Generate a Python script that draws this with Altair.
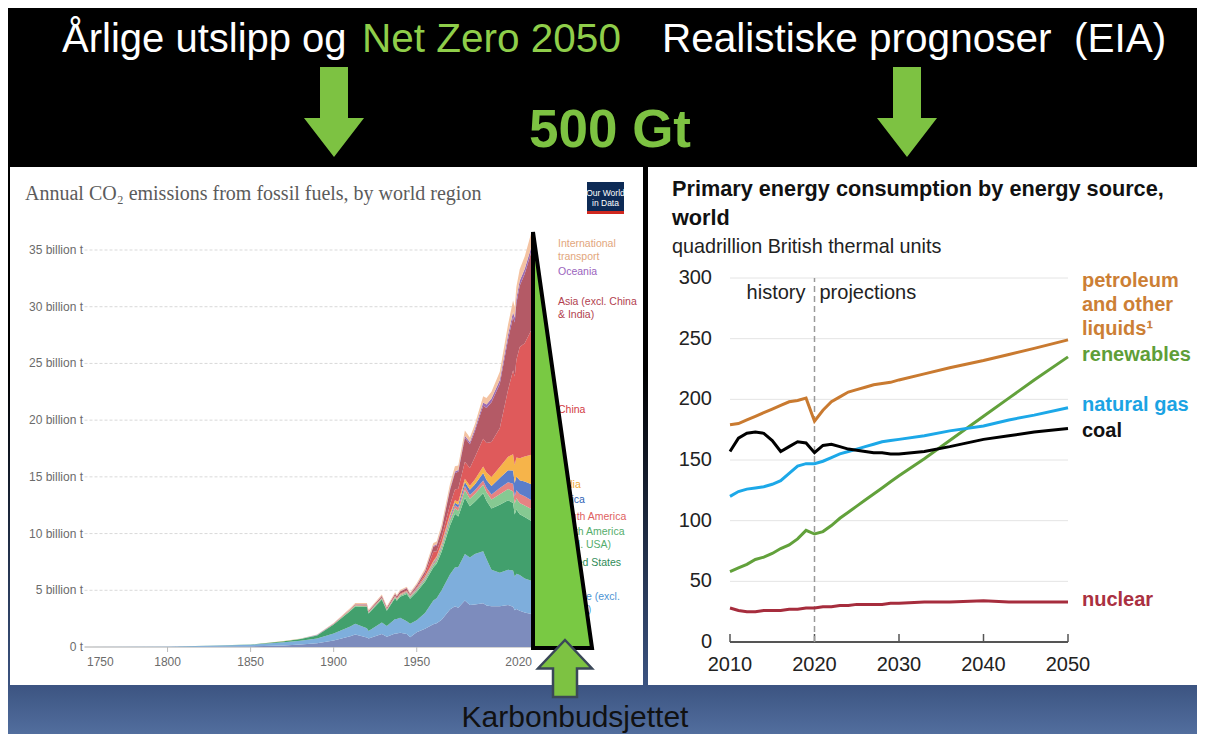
import altair as alt
import pandas as pd

W, H = 1189, 726
SANS = "Liberation Sans, Arial, Helvetica, sans-serif"
SERIF = "Liberation Serif, Times New Roman, serif"

# ---------------- left chart: annual CO2 emissions (billion t) ----------------
YEARS_L = [1750, 1800, 1850, 1870, 1880, 1890, 1900, 1910, 1913, 1920, 1921, 1929, 1932,
           1937, 1938, 1940, 1944, 1946, 1950, 1955, 1960, 1962, 1965, 1970, 1973, 1975,
           1979, 1982, 1985, 1990, 1992, 1995, 2000, 2005, 2008, 2009, 2010, 2012, 2015,
           2019, 2020]
REGIONS = ["European Union (27)", "Europe (excl. EU-27)", "United States",
           "North America (excl. USA)", "South America", "Africa", "India", "China",
           "Asia (excl. China & India)", "Oceania", "International transport"]
EU27 = [0.0005, 0.004, 0.05, 0.14, 0.22, 0.33, 0.58, 0.94, 1.10, 0.84, 0.74, 1.14, 0.91,
        1.20, 1.20, 1.26, 1.14, 0.86, 1.30, 1.60, 2.00, 2.10, 2.40, 3.30, 3.60, 3.45,
        4.10, 3.70, 3.75, 3.85, 3.65, 3.60, 3.60, 3.70, 3.55, 3.25, 3.35, 3.20, 3.05,
        2.90, 2.60]
EUR_X = [0.009, 0.028, 0.14, 0.28, 0.33, 0.42, 0.62, 0.86, 0.96, 0.82, 0.67, 1.02, 0.94,
         1.26, 1.26, 1.32, 1.14, 1.20, 1.05, 1.40, 2.10, 2.20, 2.60, 3.10, 3.40, 3.60,
         4.10, 4.20, 4.45, 4.60, 4.10, 3.20, 2.95, 3.10, 3.20, 2.95, 3.10, 3.15, 3.00,
         2.95, 2.75]
USA = [0, 0.0003, 0.02, 0.09, 0.16, 0.27, 0.78, 1.38, 1.50, 1.86, 1.54, 2.02, 1.34,
       1.86, 1.62, 1.86, 2.40, 2.20, 2.50, 2.75, 2.90, 3.05, 3.40, 4.30, 4.75, 4.45,
       4.95, 4.50, 4.60, 5.10, 5.15, 5.40, 6.00, 6.13, 5.95, 5.48, 5.68, 5.35, 5.40,
       5.26, 4.70]
NA_X = [0, 0, 0.001, 0.005, 0.01, 0.02, 0.03, 0.06, 0.07, 0.08, 0.07, 0.09, 0.07,
        0.09, 0.09, 0.10, 0.12, 0.12, 0.15, 0.20, 0.25, 0.27, 0.32, 0.42, 0.48, 0.52,
        0.70, 0.68, 0.68, 0.75, 0.75, 0.80, 0.92, 1.00, 1.02, 0.96, 0.98, 1.00, 1.02,
        1.05, 0.95]
S_AM = [0, 0, 0, 0.001, 0.002, 0.004, 0.008, 0.015, 0.018, 0.02, 0.02, 0.03, 0.025,
        0.035, 0.035, 0.04, 0.05, 0.055, 0.07, 0.10, 0.13, 0.14, 0.17, 0.22, 0.26, 0.28,
        0.34, 0.33, 0.33, 0.38, 0.40, 0.45, 0.55, 0.60, 0.68, 0.66, 0.72, 0.78, 0.82,
        0.78, 0.70]
AFRICA = [0, 0, 0, 0.001, 0.002, 0.003, 0.005, 0.01, 0.012, 0.015, 0.015, 0.02, 0.02,
          0.025, 0.025, 0.03, 0.04, 0.045, 0.06, 0.08, 0.10, 0.11, 0.13, 0.18, 0.22, 0.25,
          0.35, 0.45, 0.52, 0.65, 0.68, 0.75, 0.88, 1.05, 1.15, 1.15, 1.20, 1.22, 1.30,
          1.40, 1.28]
INDIA = [0, 0, 0, 0.001, 0.002, 0.004, 0.008, 0.015, 0.02, 0.025, 0.025, 0.03, 0.03,
         0.035, 0.035, 0.035, 0.04, 0.04, 0.06, 0.075, 0.11, 0.13, 0.16, 0.20, 0.22, 0.25,
         0.30, 0.36, 0.44, 0.58, 0.65, 0.78, 0.98, 1.20, 1.45, 1.60, 1.68, 1.95, 2.20,
         2.60, 2.45]
CHINA = [0, 0, 0, 0, 0, 0, 0.001, 0.005, 0.007, 0.01, 0.01, 0.02, 0.02,
         0.03, 0.03, 0.04, 0.05, 0.03, 0.08, 0.20, 0.80, 0.45, 0.50, 0.80, 0.95, 1.15,
         1.50, 1.55, 1.95, 2.45, 2.60, 3.10, 3.40, 5.90, 7.40, 7.80, 8.60, 9.80, 10.00,
         11.00, 11.20]
ASIA_X = [0, 0, 0, 0.002, 0.005, 0.01, 0.02, 0.05, 0.06, 0.08, 0.08, 0.12, 0.11,
          0.15, 0.16, 0.20, 0.20, 0.10, 0.16, 0.25, 0.45, 0.50, 0.70, 1.30, 1.45, 1.50,
          2.10, 2.10, 2.30, 2.90, 3.10, 3.50, 3.90, 4.45, 4.70, 4.75, 5.00, 5.40, 6.10,
          6.90, 6.50]
OCEANIA = [0, 0, 0, 0.002, 0.005, 0.01, 0.015, 0.02, 0.022, 0.025, 0.025, 0.03, 0.028,
           0.033, 0.034, 0.035, 0.04, 0.042, 0.05, 0.065, 0.08, 0.085, 0.10, 0.13, 0.15,
           0.16, 0.19, 0.21, 0.23, 0.30, 0.31, 0.33, 0.37, 0.42, 0.44, 0.43, 0.44, 0.44,
           0.43, 0.45, 0.43]
INTL = [0, 0, 0.005, 0.01, 0.02, 0.035, 0.05, 0.08, 0.10, 0.10, 0.09, 0.11, 0.09,
        0.10, 0.10, 0.10, 0.10, 0.12, 0.15, 0.20, 0.25, 0.27, 0.32, 0.40, 0.45, 0.40,
        0.45, 0.38, 0.38, 0.55, 0.56, 0.60, 0.72, 0.90, 1.00, 0.95, 1.00, 1.02, 1.10,
        1.25, 0.85]
SERIES_L = [EU27, EUR_X, USA, NA_X, S_AM, AFRICA, INDIA, CHINA, ASIA_X, OCEANIA, INTL]
AREA_COLORS = ["#7d8cbd", "#7eaedc", "#42a06d", "#86c992", "#e58383", "#5a7dca",
               "#f6b44a", "#df5a5b", "#b45a66", "#9c6db4", "#f4c3a2"]

Y_TICKS_L = [0, 5, 10, 15, 20, 25, 30, 35]
Y_LABELS_L = ["0 t", "5 billion t", "10 billion t", "15 billion t", "20 billion t",
              "25 billion t", "30 billion t", "35 billion t"]
X_TICKS_L = [1750, 1800, 1850, 1900, 1950, 2020]

LBL_L_TEXT = ["International\ntransport", "Oceania", "Asia (excl. China\n& India)", "China",
              "India", "Africa", "South America", "North America\n(excl. USA)",
              "United States", "Europe (excl.\nEU-27)"]
LBL_L_Y = [35.5, 33.1, 30.4, 20.9, 14.3, 13.0, 11.5, 10.15, 7.4, 4.4]
LBL_L_COLOR = ["#e2a67c", "#9a64bd", "#b23f4f", "#d23a43", "#f0a733", "#2f62b5",
               "#de5f5f", "#55ad6c", "#2e8b57", "#4b93d3"]

# ---------------- right chart: EIA primary energy consumption ----------------
YEARS_R = [2010, 2011, 2012, 2013, 2014, 2015, 2016, 2017, 2018, 2019, 2020, 2021, 2022,
           2023, 2024, 2025, 2026, 2027, 2028, 2029, 2030, 2033, 2036, 2040, 2043, 2046,
           2050]
PETROLEUM = [179, 180, 183, 186, 189, 192, 195, 198, 199, 201, 182, 191, 198, 202, 206,
             208, 210, 212, 213, 214, 216, 221, 226, 232, 237, 242, 249]
RENEWABLES = [58, 61, 64, 68, 70, 73, 77, 80, 85, 92, 89, 91, 96, 102, 107, 112, 117, 122,
              127, 132, 137, 151, 166, 186, 201, 216, 235]
NATGAS = [120, 124, 126, 127, 128, 130, 133, 139, 145, 147, 147, 149, 152, 155, 157, 159,
          161, 163, 165, 166, 167, 170, 174, 178, 183, 187, 193]
COAL = [157, 168, 172, 173, 172, 166, 157, 161, 165, 164, 156, 162, 163, 161, 159, 158,
        157, 156, 156, 155, 155, 157, 161, 167, 170, 173, 176]
NUCLEAR = [28, 26, 25, 25, 26, 26, 26, 27, 27, 28, 28, 29, 29, 30, 30, 31, 31, 31, 31, 32,
           32, 33, 33, 34, 33, 33, 33]
SOURCES = ["petroleum and other liquids", "renewables", "natural gas", "coal", "nuclear"]
SERIES_R = [PETROLEUM, RENEWABLES, NATGAS, COAL, NUCLEAR]
LINE_COLORS = ["#c97a30", "#62a13b", "#1ca8e8", "#000000", "#a62d3d"]
LBL_R_TEXT = ["petroleum\nand other\nliquids\u00b9", "renewables", "natural gas", "coal", "nuclear"]
LBL_R_Y = [297.5, 236.5, 195.3, 173.9, 34.6]
LBL_R_COLOR = ["#cc7f35", "#5f9e38", "#1ba3e3", "#111111", "#aa3041"]
Y_TICKS_R = [0, 50, 100, 150, 200, 250, 300]
X_TICKS_R = [2010, 2020, 2030, 2040, 2050]
PHASE_TEXT = ["history", "projections"]
PHASE_Y = [287.5, 287.5]

# ---------------- colours ----------------
GREEN = "#7dc242"
GREEN_LIGHT = "#8fce4a"
TRI_GREEN = "#79c943"

one = pd.DataFrame({"k": [0]})

# ---------------- scales ----------------
xl_scale = alt.Scale(domain=[1750, 2020], range=[76.5, 525], nice=False, zero=False)
yl_scale = alt.Scale(domain=[0, 35], range=[639, 242], nice=False, zero=False)
xr_scale = alt.Scale(domain=[2010, 2050], range=[722, 1060], nice=False, zero=False)
yr_scale = alt.Scale(domain=[0, 300], range=[634, 270], nice=False, zero=False)

# ---------------- backgrounds ----------------
bg = alt.Chart(one).mark_rect(
    color=alt.Gradient(
        gradient="linear",
        stops=[alt.GradientStop(offset=0, color="#000000"),
               alt.GradientStop(offset=0.5, color="#000000"),
               alt.GradientStop(offset=0.93, color="#3b5380"),
               alt.GradientStop(offset=1, color="#526e9e")],
        x1=0, x2=0, y1=0, y2=1)
).encode(x=alt.value(0), x2=alt.value(W), y=alt.value(0), y2=alt.value(H))

panel_l = alt.Chart(one).mark_rect(color="white").encode(
    x=alt.value(2), x2=alt.value(635), y=alt.value(159), y2=alt.value(677))
panel_r = alt.Chart(one).mark_rect(color="white").encode(
    x=alt.value(640), x2=alt.value(W), y=alt.value(159), y2=alt.value(677))

# ---------------- left chart ----------------
rows = []
for k, (reg, vals) in enumerate(zip(REGIONS, SERIES_L)):
    for yr, v in zip(YEARS_L, vals):
        rows.append({"year": yr, "region": reg, "value": v, "k": k})
df_l = pd.DataFrame(rows)

grid_l = alt.Chart(pd.DataFrame({"v": Y_TICKS_L[1:]})).mark_rule(
    color="#d9d9d9", strokeDash=[3, 2], strokeWidth=1
).encode(
    x=alt.X(datum=1750, type="quantitative", scale=xl_scale, axis=None),
    x2=alt.X2(datum=2020),
    y=alt.Y("v:Q", scale=yl_scale, axis=None),
)
base_l = alt.Chart(pd.DataFrame({"v": [0]})).mark_rule(color="#aaaaaa", strokeWidth=1).encode(
    x=alt.X(datum=1750, type="quantitative", scale=xl_scale, axis=None),
    x2=alt.X2(datum=2020),
    y=alt.Y("v:Q", scale=yl_scale, axis=None),
)
ticks_l = alt.Chart(pd.DataFrame({"year": X_TICKS_L[1:-1]})).mark_rule(
    color="#bbbbbb", strokeWidth=1
).encode(
    x=alt.X("year:Q", scale=xl_scale, axis=None),
    y=alt.value(639), y2=alt.value(644),
)
area = alt.Chart(df_l).mark_area(interpolate="linear").encode(
    x=alt.X("year:Q", scale=xl_scale, axis=None),
    y=alt.Y("value:Q", stack="zero", scale=yl_scale, axis=None),
    color=alt.Color("region:N", scale=alt.Scale(domain=REGIONS, range=AREA_COLORS), legend=None),
    order=alt.Order("k:Q"),
)
ylab_l = alt.Chart(pd.DataFrame({"v": Y_TICKS_L, "t": Y_LABELS_L})).mark_text(
    align="right", baseline="middle", fontSize=12, color="#6b6b6b", font=SANS
).encode(x=alt.value(75), y=alt.Y("v:Q", scale=yl_scale, axis=None), text="t:N")

df_xt = pd.DataFrame({"year": X_TICKS_L, "t": [str(v) for v in X_TICKS_L]})
xlab_first = alt.Chart(df_xt.iloc[:1]).mark_text(
    align="left", baseline="middle", fontSize=12, color="#6b6b6b", font=SANS, dx=2.5
).encode(x=alt.X("year:Q", scale=xl_scale, axis=None), y=alt.value(654), text="t:N")
xlab_mid = alt.Chart(df_xt.iloc[1:-1]).mark_text(
    align="center", baseline="middle", fontSize=12, color="#6b6b6b", font=SANS
).encode(x=alt.X("year:Q", scale=xl_scale, axis=None), y=alt.value(654), text="t:N")
xlab_last = alt.Chart(df_xt.iloc[-1:]).mark_text(
    align="right", baseline="middle", fontSize=12, color="#6b6b6b", font=SANS, dx=-1
).encode(x=alt.X("year:Q", scale=xl_scale, axis=None), y=alt.value(654), text="t:N")

lbl_l = alt.Chart(pd.DataFrame({"t": LBL_L_TEXT, "v": LBL_L_Y})).mark_text(
    align="left", baseline="middle", fontSize=10.5, font=SANS, lineBreak="\n", lineHeight=13, dx=25
).encode(
    x=alt.X(datum=2020, type="quantitative", scale=xl_scale, axis=None),
    y=alt.Y("v:Q", scale=yl_scale, axis=None),
    text="t:N",
    color=alt.Color("t:N", scale=alt.Scale(domain=LBL_L_TEXT, range=LBL_L_COLOR), legend=None),
)

title_l = alt.Chart(one).mark_text(
    text="Annual CO\u2082 emissions from fossil fuels, by world region",
    align="left", baseline="alphabetic", fontSize=20, font=SERIF, color="#5b5b5b"
).encode(x=alt.value(17), y=alt.value(192))

logo = alt.Chart(one).mark_rect(color="#0d2a55").encode(
    x=alt.value(579), x2=alt.value(616), y=alt.value(174), y2=alt.value(206))
logo_red = alt.Chart(one).mark_rect(color="#d0281f").encode(
    x=alt.value(579), x2=alt.value(616), y=alt.value(203), y2=alt.value(206))
logo_t1 = alt.Chart(one).mark_text(text="Our World", fontSize=8.5, font=SANS, color="white",
                                   align="center", baseline="middle").encode(
    x=alt.value(597.5), y=alt.value(184.5))
logo_t2 = alt.Chart(one).mark_text(text="in Data", fontSize=8.5, font=SANS, color="white",
                                   align="center", baseline="middle").encode(
    x=alt.value(597.5), y=alt.value(195))

left = alt.layer(grid_l, base_l, ticks_l, area, ylab_l, xlab_first, xlab_mid, xlab_last,
                 lbl_l).resolve_scale(color="independent")

# ---------------- right chart ----------------
rows = []
for src, vals in zip(SOURCES, SERIES_R):
    for yr, v in zip(YEARS_R, vals):
        rows.append({"year": yr, "source": src, "value": v})
df_r = pd.DataFrame(rows)

grid_r = alt.Chart(pd.DataFrame({"v": Y_TICKS_R[1:]})).mark_rule(
    color="#e4e4e4", strokeWidth=1
).encode(
    x=alt.X(datum=2010, type="quantitative", scale=xr_scale, axis=None),
    x2=alt.X2(datum=2050),
    y=alt.Y("v:Q", scale=yr_scale, axis=None),
)
axis_r = alt.Chart(pd.DataFrame({"v": [0]})).mark_rule(color="#555555", strokeWidth=2).encode(
    x=alt.X(datum=2010, type="quantitative", scale=xr_scale, axis=None),
    x2=alt.X2(datum=2050),
    y=alt.Y("v:Q", scale=yr_scale, axis=None),
)
ticks_r = alt.Chart(pd.DataFrame({"year": X_TICKS_R})).mark_rule(color="#555555", strokeWidth=1.5).encode(
    x=alt.X("year:Q", scale=xr_scale, axis=None),
    y=alt.value(634), y2=alt.value(626),
)
divider = alt.Chart(pd.DataFrame({"year": [2020]})).mark_rule(
    color="#9a9a9a", strokeWidth=1.5, strokeDash=[6, 4]
).encode(
    x=alt.X("year:Q", scale=xr_scale, axis=None),
    y=alt.Y(datum=0, type="quantitative", scale=yr_scale, axis=None),
    y2=alt.Y2(datum=300),
)
lines = alt.Chart(df_r).mark_line(strokeWidth=3).encode(
    x=alt.X("year:Q", scale=xr_scale, axis=None),
    y=alt.Y("value:Q", scale=yr_scale, axis=None),
    color=alt.Color("source:N", scale=alt.Scale(domain=SOURCES, range=LINE_COLORS), legend=None),
)
ylab_r = alt.Chart(pd.DataFrame({"v": Y_TICKS_R, "t": [str(v) for v in Y_TICKS_R]})).mark_text(
    align="right", baseline="middle", fontSize=20, color="#222222", font=SANS
).encode(x=alt.value(704), y=alt.Y("v:Q", scale=yr_scale, axis=None), text="t:N")
xlab_r = alt.Chart(pd.DataFrame({"year": X_TICKS_R, "t": [str(v) for v in X_TICKS_R]})).mark_text(
    align="center", baseline="middle", fontSize=20, color="#222222", font=SANS
).encode(x=alt.X("year:Q", scale=xr_scale, axis=None), y=alt.value(657), text="t:N")
hist_t = alt.Chart(pd.DataFrame({"t": PHASE_TEXT[:1], "v": PHASE_Y[:1]})).mark_text(
    align="right", baseline="middle", fontSize=20, color="#222222", font=SANS, dx=-9
).encode(x=alt.X(datum=2020, type="quantitative", scale=xr_scale, axis=None),
         y=alt.Y("v:Q", scale=yr_scale, axis=None), text="t:N")
proj_t = alt.Chart(pd.DataFrame({"t": PHASE_TEXT[1:], "v": PHASE_Y[1:]})).mark_text(
    align="left", baseline="middle", fontSize=20, color="#222222", font=SANS, dx=5
).encode(x=alt.X(datum=2020, type="quantitative", scale=xr_scale, axis=None),
         y=alt.Y("v:Q", scale=yr_scale, axis=None), text="t:N")
lbl_r = alt.Chart(pd.DataFrame({"t": LBL_R_TEXT, "v": LBL_R_Y})).mark_text(
    align="left", baseline="middle", fontSize=20, fontWeight="bold", font=SANS,
    lineBreak="\n", lineHeight=24, dx=14
).encode(
    x=alt.X(datum=2050, type="quantitative", scale=xr_scale, axis=None),
    y=alt.Y("v:Q", scale=yr_scale, axis=None),
    text="t:N",
    color=alt.Color("t:N", scale=alt.Scale(domain=LBL_R_TEXT, range=LBL_R_COLOR), legend=None),
)

right = alt.layer(grid_r, axis_r, ticks_r, divider, lines, ylab_r, xlab_r, hist_t, proj_t,
                  lbl_r).resolve_scale(color="independent")

title_r1 = alt.Chart(one).mark_text(
    text="Primary energy consumption by energy source,", align="left", baseline="alphabetic",
    fontSize=21.7, fontWeight="bold", font=SANS, color="#111111"
).encode(x=alt.value(664), y=alt.value(188))
title_r2 = alt.Chart(one).mark_text(
    text="world", align="left", baseline="alphabetic",
    fontSize=21.7, fontWeight="bold", font=SANS, color="#111111"
).encode(x=alt.value(664), y=alt.value(217))
sub_r = alt.Chart(one).mark_text(
    text="quadrillion British thermal units", align="left", baseline="alphabetic",
    fontSize=19.8, font=SANS, color="#222222"
).encode(x=alt.value(664), y=alt.value(245))

# ---------------- slide decorations ----------------
head1 = alt.Chart(one).mark_text(
    text="\u00c5rlige utslipp og", align="left", baseline="alphabetic", fontSize=40,
    font=SANS, color="white").encode(x=alt.value(54), y=alt.value(44))
head2 = alt.Chart(one).mark_text(
    text="Net Zero 2050", align="left", baseline="alphabetic", fontSize=40.5,
    font=SANS, color=GREEN_LIGHT).encode(x=alt.value(354), y=alt.value(44))
head3 = alt.Chart(one).mark_text(
    text="Realistiske prognoser \u00a0(EIA)", align="left", baseline="alphabetic", fontSize=40.5,
    font=SANS, color="white").encode(x=alt.value(654), y=alt.value(44))
big = alt.Chart(one).mark_text(
    text="500 Gt", align="center", baseline="alphabetic", fontSize=53, fontWeight="bold",
    font=SANS, color=GREEN).encode(x=alt.value(602), y=alt.value(139))

DOWN_ARROW = "M-0.311,-1 L0.311,-1 L0.311,0.133 L0.667,0.133 L0,1 L-0.667,0.133 L-0.311,0.133 Z"
UP_ARROW = "M0,-1 L0.947,0 L0.421,0 L0.421,1 L-0.421,1 L-0.421,0 L-0.947,0 Z"
TRIANGLE = "M0,-1 L0,1 L0.2837,1 Z"

arrow1 = alt.Chart(one).mark_point(shape=DOWN_ARROW, size=8100, filled=True, color=GREEN,
                                   opacity=1, strokeWidth=0).encode(
    x=alt.value(326), y=alt.value(104))
arrow2 = alt.Chart(one).mark_point(shape=DOWN_ARROW, size=8100, filled=True, color=GREEN,
                                   opacity=1, strokeWidth=0).encode(
    x=alt.value(899), y=alt.value(104))
tri = alt.Chart(one).mark_point(shape=TRIANGLE, size=173056, filled=True, fill=TRI_GREEN,
                                stroke="#000000", strokeWidth=4, opacity=1,
                                fillOpacity=1, strokeOpacity=1).encode(
    x=alt.value(525), y=alt.value(432))
arrow3 = alt.Chart(one).mark_point(shape=UP_ARROW, size=3249, filled=True, fill=GREEN,
                                   stroke="#3a4758", strokeWidth=2.5, opacity=1,
                                   fillOpacity=1, strokeOpacity=1).encode(
    x=alt.value(557), y=alt.value(660.5))
foot = alt.Chart(one).mark_text(
    text="Karbonbudsjettet", align="center", baseline="alphabetic", fontSize=30,
    font=SANS, color="#111111"
).encode(x=alt.value(567), y=alt.value(719))

chart = alt.layer(
    bg, panel_l, panel_r,
    title_l, logo, logo_red, logo_t1, logo_t2,
    left, right,
    title_r1, title_r2, sub_r,
    head1, head2, head3, big, arrow1, arrow2, tri, arrow3, foot,
).resolve_scale(
    x="independent", y="independent", color="independent"
).properties(
    width=W, height=H, padding=0, autosize=alt.AutoSizeParams(type="none"),
    background="#000000",
).configure_view(strokeWidth=0)

chart.save("out.html", embed_options={"renderer": "svg", "actions": False})
